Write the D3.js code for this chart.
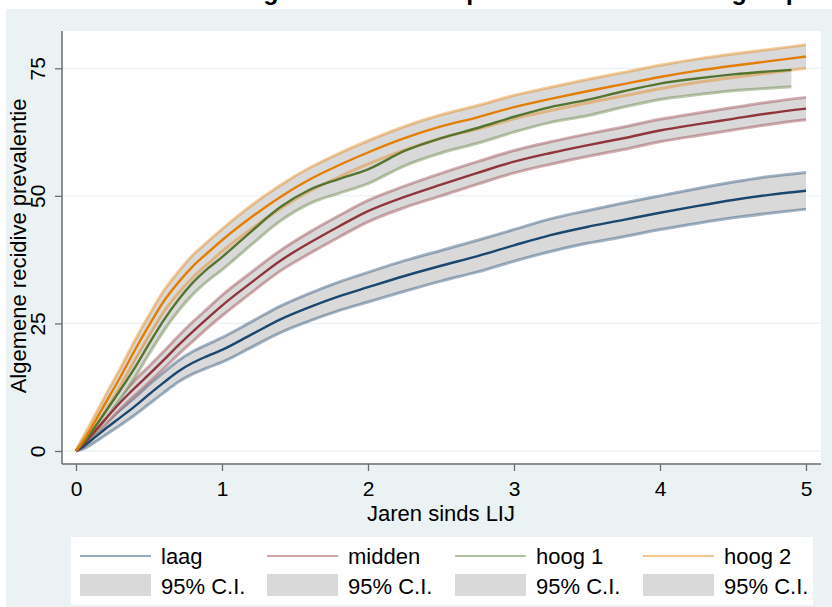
<!DOCTYPE html>
<html><head><meta charset="utf-8">
<script src="https://cdn.jsdelivr.net/npm/d3@7"></script>
<style>
body{margin:0;background:#fff;}
text{font-family:"Liberation Sans",Arial,sans-serif;fill:#000;}
</style>
</head><body>
<svg id="c" width="832" height="607"></svg>
<script>
// ---------- data ----------
const titleText = "Algemene recidive prevalentie naar risicogroep";
const xLabel = "Jaren sinds LIJ";
const yLabel = "Algemene recidive prevalentie";
const xTicks = [0, 1, 2, 3, 4, 5];
const yTicks = [0, 25, 50, 75];
const seriesNames = ["laag", "midden", "hoog 1", "hoog 2"];
const ciLabel = "95% C.I.";

const times      = [0,0.05,0.1,0.2,0.3,0.4,0.5,0.6,0.7,0.8,0.9,1.0,1.2,1.4,1.6,1.8,2.0,2.25,2.5,2.75,3.0,3.25,3.5,3.75,4.0,4.25,4.5,4.75,5.0];
const timesHoog1 = [0,0.05,0.1,0.2,0.3,0.4,0.5,0.6,0.7,0.8,0.9,1.0,1.2,1.4,1.6,1.8,2.0,2.25,2.5,2.75,3.0,3.25,3.5,3.75,4.0,4.25,4.5,4.75,4.9];

const laag    = [0,0.9,2.0,4.3,6.5,8.7,11.1,13.4,15.6,17.3,18.6,19.8,22.8,25.8,28.2,30.3,32.1,34.3,36.3,38.2,40.3,42.3,43.9,45.3,46.7,48.0,49.2,50.2,51.0];
const laagLo  = [0,0.4,1.2,3.1,5.0,7.0,9.2,11.4,13.5,15.1,16.3,17.4,20.3,23.2,25.5,27.5,29.2,31.3,33.3,35.1,37.2,39.1,40.7,42.0,43.4,44.6,45.7,46.6,47.4];
const laagHi  = [0,1.4,2.8,5.5,8.0,10.4,13.0,15.4,17.7,19.5,20.9,22.2,25.3,28.4,30.9,33.1,35.0,37.3,39.3,41.3,43.4,45.5,47.1,48.6,50.0,51.4,52.7,53.8,54.6];

const midden   = [0,1.3,2.9,6.2,9.4,12.3,15.0,17.8,20.7,23.4,26.0,28.5,33.0,37.3,40.8,44.0,47.0,49.8,52.2,54.5,56.7,58.4,59.9,61.3,62.8,64.0,65.1,66.2,67.1];
const middenLo = [0,0.8,2.1,5.1,8.1,10.8,13.4,16.1,18.9,21.5,24.1,26.5,31.0,35.3,38.7,41.9,44.9,47.7,50.0,52.3,54.5,56.2,57.7,59.1,60.6,61.8,62.9,64.0,64.9];
const middenHi = [0,1.8,3.7,7.3,10.7,13.8,16.6,19.5,22.5,25.3,27.9,30.5,35.0,39.3,42.9,46.1,49.1,51.9,54.4,56.7,58.9,60.6,62.1,63.5,65.0,66.2,67.3,68.4,69.3];

const hoog1   = [0,1.6,3.5,7.6,11.8,16.2,21.0,25.6,29.6,33.0,35.7,38.0,43.0,47.8,51.2,53.3,55.2,58.8,61.3,63.3,65.5,67.4,68.8,70.5,72.0,73.0,73.8,74.4,74.7];
const hoog1Lo = [0,0.9,2.5,6.2,10.1,14.3,19.0,23.5,27.4,30.7,33.3,35.5,40.4,45.1,48.5,50.5,52.4,55.9,58.4,60.3,62.5,64.4,65.7,67.4,68.9,69.8,70.6,71.1,71.4];
const hoog1Hi = [0,2.3,4.5,9.0,13.5,18.1,23.0,27.7,31.8,35.3,38.1,40.5,45.6,50.5,53.9,56.1,58.0,61.7,64.2,66.3,68.5,70.4,71.9,73.6,75.1,76.2,77.0,77.7,78.0];

const hoog2   = [0,2.0,4.3,9.3,14.3,19.6,24.6,29.3,33.0,36.2,38.8,41.3,45.8,49.8,53.2,56.0,58.5,61.3,63.6,65.4,67.4,69.0,70.5,71.9,73.3,74.5,75.5,76.4,77.3];
const hoog2Lo = [0,1.2,3.2,7.8,12.6,17.7,22.6,27.2,30.9,34.0,36.6,39.1,43.5,47.5,50.9,53.7,56.2,59.0,61.3,63.1,65.1,66.7,68.2,69.6,71.0,72.2,73.2,74.1,75.0];
const hoog2Hi = [0,2.8,5.4,10.8,16.0,21.5,26.6,31.4,35.1,38.4,41.0,43.5,48.1,52.1,55.5,58.3,60.8,63.6,65.9,67.7,69.7,71.3,72.8,74.2,75.6,76.8,77.8,78.7,79.6];

const colors = ["#1A476F", "#90353B", "#55752F", "#E37E00"];

// ---------- build ----------
const series = [
  {name: seriesNames[0], t: times,      est: laag,   lo: laagLo,   hi: laagHi,   color: colors[0]},
  {name: seriesNames[1], t: times,      est: midden, lo: middenLo, hi: middenHi, color: colors[1]},
  {name: seriesNames[2], t: timesHoog1, est: hoog1,  lo: hoog1Lo,  hi: hoog1Hi,  color: colors[2]},
  {name: seriesNames[3], t: times,      est: hoog2,  lo: hoog2Lo,  hi: hoog2Hi,  color: colors[3]}
];

const svg = d3.select("#c");
const W = 832, H = 607;
const L = 62, R = 821, T = 31, B = 464;

svg.append("rect").attr("x", 6).attr("y", 9).attr("width", W - 6).attr("height", H - 9).attr("fill", "#EAF2F3");

svg.append("text").attr("x", 801).attr("y", 0).attr("text-anchor", "end")
  .attr("font-weight", "bold").attr("font-size", 25).text(titleText);

svg.append("rect").attr("x", L).attr("y", T).attr("width", R - L).attr("height", B - T).attr("fill", "#fff");

const x = d3.scaleLinear().domain([0, 5]).range([76, 806]);
const y = d3.scaleLinear().domain([0, 75]).range([451, 68.3]);
const curve = d3.curveMonotoneX;

// gridlines
svg.append("g").selectAll("line").data(yTicks).join("line")
  .attr("x1", L).attr("x2", R).attr("y1", d => y(d)).attr("y2", d => y(d))
  .attr("stroke", "#EAF2F3").attr("stroke-width", 1.3);

const plot = svg.append("g");

// CI bands
series.forEach(s => {
  const pts = s.t.map((t, i) => ({t, e: s.est[i], lo: s.lo[i], hi: s.hi[i]}));
  plot.append("path").datum(pts)
    .attr("d", d3.area().curve(curve).x(d => x(d.t)).y0(d => y(d.lo)).y1(d => y(d.hi)))
    .attr("fill", "#D9D9D9");
  ["lo", "hi"].forEach(k => {
    plot.append("path").datum(pts)
      .attr("d", d3.line().curve(curve).x(d => x(d.t)).y(d => y(d[k])))
      .attr("fill", "none").attr("stroke", s.color).attr("stroke-opacity", 0.4)
      .attr("stroke-width", 3).attr("stroke-linejoin", "round");
  });
});
// estimate lines
series.forEach(s => {
  const pts = s.t.map((t, i) => ({t, e: s.est[i]}));
  plot.append("path").datum(pts)
    .attr("d", d3.line().curve(curve).x(d => x(d.t)).y(d => y(d.e)))
    .attr("fill", "none").attr("stroke", s.color).attr("stroke-width", 2.4)
    .attr("stroke-linejoin", "round");
});

// axes
const axisColor = "#6e6e6e";
const gx = svg.append("g").attr("transform", `translate(0,${B})`)
  .call(d3.axisBottom(x).tickValues(xTicks).tickFormat(d3.format("d")).tickSize(7).tickSizeOuter(0).tickPadding(10));
gx.select(".domain").remove();
gx.selectAll("line").attr("stroke", axisColor).attr("stroke-width", 1.3);
gx.selectAll("text").attr("font-size", 21).attr("font-family", "Liberation Sans, Arial, sans-serif");
svg.append("line").attr("x1", L).attr("x2", R).attr("y1", B).attr("y2", B)
  .attr("stroke", axisColor).attr("stroke-width", 1.5);

const gy = svg.append("g").attr("transform", `translate(${L},0)`)
  .call(d3.axisLeft(y).tickValues(yTicks).tickFormat(d3.format("d")).tickSize(7).tickSizeOuter(0));
gy.select(".domain").remove();
gy.selectAll("line").attr("stroke", axisColor).attr("stroke-width", 1.3);
gy.selectAll("text").attr("font-size", 21).attr("font-family", "Liberation Sans, Arial, sans-serif")
  .attr("transform", "rotate(-90)").attr("x", 0).attr("y", -17).attr("dy", 0)
  .attr("text-anchor", "middle");
svg.append("line").attr("x1", L).attr("x2", L).attr("y1", T).attr("y2", B)
  .attr("stroke", axisColor).attr("stroke-width", 1.5);

// axis titles
svg.append("text").attr("x", 441).attr("y", 521).attr("text-anchor", "middle")
  .attr("font-size", 22).text(xLabel);
svg.append("text").attr("transform", "translate(26,246) rotate(-90)").attr("text-anchor", "middle")
  .attr("font-size", 22).text(yLabel);

// legend
const lg = svg.append("g");
lg.append("rect").attr("x", 71).attr("y", 537).attr("width", 742).attr("height", 68).attr("fill", "#fff");
const colX = [80, 267, 455, 643];
series.forEach((s, i) => {
  const x0 = colX[i];
  lg.append("line").attr("x1", x0).attr("x2", x0 + 71).attr("y1", 556).attr("y2", 556)
    .attr("stroke", s.color).attr("stroke-opacity", 0.45).attr("stroke-width", 2);
  lg.append("text").attr("x", x0 + 81).attr("y", 564).attr("font-size", 22).text(s.name);
  lg.append("rect").attr("x", x0).attr("y", 574).attr("width", 71).attr("height", 22).attr("fill", "#D9D9D9");
  lg.append("text").attr("x", x0 + 81).attr("y", 594).attr("font-size", 22).text(ciLabel);
});
</script>
</body></html>
